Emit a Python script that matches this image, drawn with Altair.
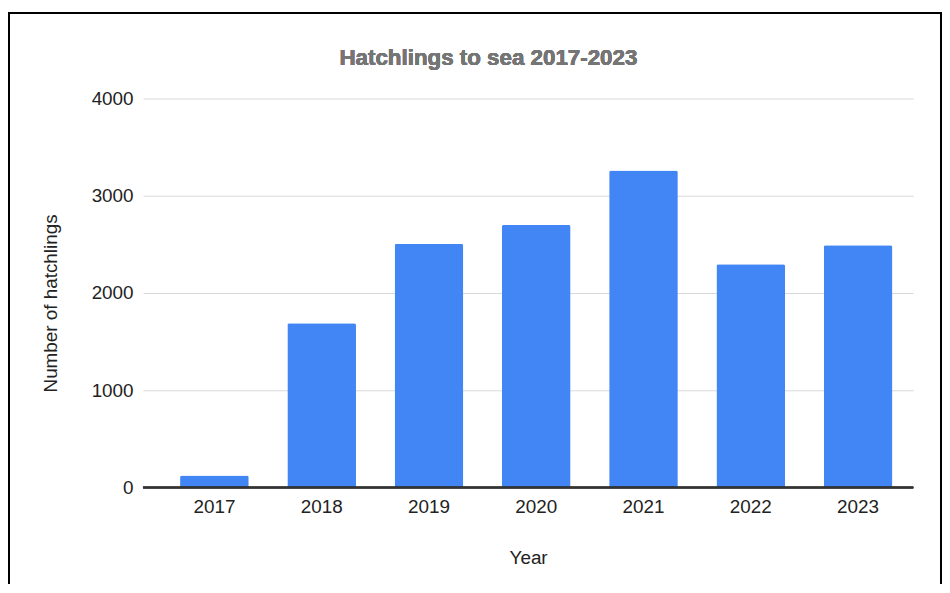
import altair as alt
import pandas as pd

years = ["2017", "2018", "2019", "2020", "2021", "2022", "2023"]
hatchlings = [125, 1690, 2505, 2700, 3260, 2295, 2490]
y_ticks = [0, 1000, 2000, 3000, 4000]
title_text = "Hatchlings to sea 2017-2023"

df = pd.DataFrame({"Year": years, "Hatchlings": hatchlings})

FONT = "Liberation Sans"
W, H = 776, 392

bars = alt.Chart(df).mark_bar(
    color="#4285f4", cornerRadiusTopLeft=2, cornerRadiusTopRight=2
).encode(
    x=alt.X("Year:N", sort=years, title="Year",
            scale=alt.Scale(paddingInner=0.36, paddingOuter=0.27, align=0.64),
            axis=alt.Axis(labelAngle=0, labelFontSize=19, labelColor="#222222",
                          labelPadding=10, ticks=False, domain=False, grid=False,
                          titleFontSize=19, titleColor="#222222", titleFontWeight="normal",
                          titlePadding=33, labelFont=FONT, titleFont=FONT)),
    y=alt.Y("Hatchlings:Q", title="Number of hatchlings",
            scale=alt.Scale(domain=[0, 4000], nice=False),
            axis=alt.Axis(values=y_ticks, format="d", labelFontSize=19, labelColor="#222222",
                          labelPadding=10, ticks=False, domain=False,
                          gridColor="#d9d9d9", gridWidth=1,
                          titleFontSize=19, titleColor="#222222", titleFontWeight="normal",
                          titlePadding=31, titleY=206, labelFont=FONT, titleFont=FONT)),
)

baseline = alt.Chart(df).mark_rule(color="#333333", strokeWidth=1.5).encode(
    y=alt.datum(0), x=alt.value(0), x2=alt.value(W)
)

title = alt.Chart(df).mark_text(
    font=FONT, fontSize=22.5, fontWeight="bold", color="#757575",
    align="center", baseline="alphabetic"
).encode(
    x=alt.value(348), y=alt.value(-34), text=alt.value(title_text)
)

border = alt.Chart(df).mark_rect(
    fill=None, stroke="#000000", strokeWidth=2, clip=False
).encode(
    x=alt.value(-135), x2=alt.value(804), y=alt.value(-86), y2=alt.value(520)
)

chart = alt.layer(bars, baseline, title, border).properties(
    width=W, height=H,
    background="white",
    autosize=alt.AutoSizeParams(type="none"),
    padding={"left": 136, "top": 89, "right": 29, "bottom": 95},
).configure_view(stroke=None)

chart.save("out.html", embed_options={"renderer": "svg", "actions": False})
